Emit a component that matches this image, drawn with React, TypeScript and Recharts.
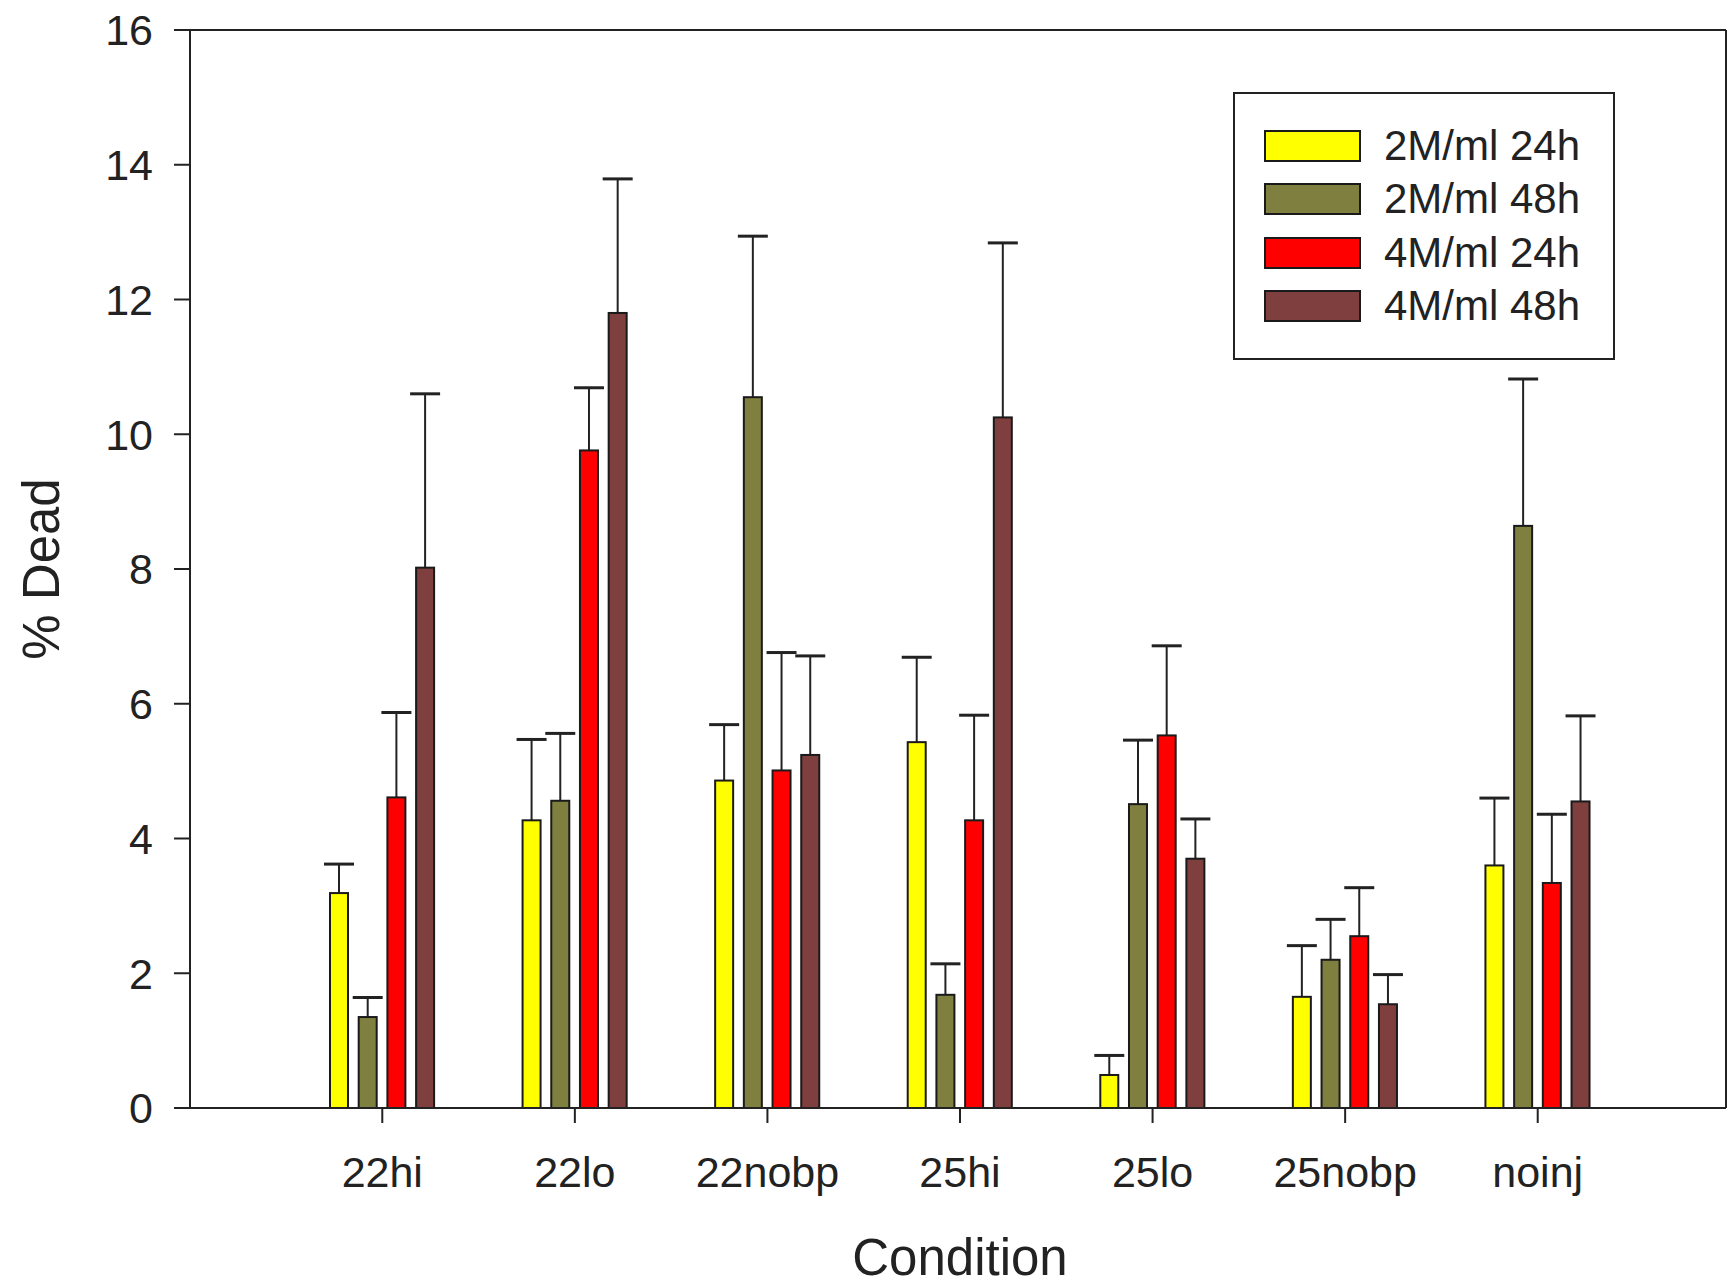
import React from 'react';
import { BarChart, Bar, XAxis, YAxis, Legend } from 'recharts';

const categories = ['22hi', '22lo', '22nobp', '25hi', '25lo', '25nobp', 'noinj'];
const yTicks = [0, 2, 4, 6, 8, 10, 12, 14, 16];

const seriesNames = ['2M/ml 24h', '2M/ml 48h', '4M/ml 24h', '4M/ml 48h'];
const seriesColors = ['#FFFF00', '#7F7F3F', '#FF0000', '#7F3F3F'];

const v2M24 = [3.19, 4.27, 4.86, 5.43, 0.49, 1.65, 3.6];
const e2M24 = [0.43, 1.2, 0.83, 1.26, 0.29, 0.76, 1.0];
const v2M48 = [1.35, 4.56, 10.55, 1.68, 4.51, 2.2, 8.64];
const e2M48 = [0.29, 1.0, 2.39, 0.46, 0.95, 0.6, 2.18];
const v4M24 = [4.61, 9.76, 5.01, 4.27, 5.53, 2.55, 3.34];
const e4M24 = [1.26, 0.93, 1.75, 1.56, 1.33, 0.72, 1.02];
const v4M48 = [8.02, 11.8, 5.24, 10.25, 3.7, 1.54, 4.55];
const e4M48 = [2.58, 1.99, 1.47, 2.59, 0.59, 0.44, 1.27];

const data = categories.map((cat, i) => ({
  cat,
  s0: v2M24[i], e0: e2M24[i],
  s1: v2M48[i], e1: e2M48[i],
  s2: v4M24[i], e2: e4M24[i],
  s3: v4M48[i], e3: e4M48[i],
}));

const FONT = '"Liberation Sans", Arial, Helvetica, sans-serif';
const INK = '#222';

const makeShape = (errKey: string) => (props: any) => {
  const { x, y, width, height, payload, value, fill } = props;
  const v = Array.isArray(value) ? value[1] - value[0] : value;
  const ppu = v ? height / v : 0;
  const err = payload[errKey] || 0;
  const top = y - err * ppu;
  const cx = x + width / 2;
  return (
    <g>
      <line x1={cx} x2={cx} y1={y} y2={top} stroke={INK} strokeWidth={2} />
      <line x1={cx - 15} x2={cx + 15} y1={top} y2={top} stroke={INK} strokeWidth={3} />
      <rect x={x} y={y} width={width} height={height} fill={fill} stroke="#1a1a1a" strokeWidth={2} />
    </g>
  );
};

const LegendBox = () => (
  <div
    style={{
      position: 'relative',
      width: 382,
      height: 268,
      border: `2px solid ${INK}`,
      boxSizing: 'border-box',
      background: '#fff',
      fontFamily: FONT,
    }}
  >
    {seriesNames.map((name, i) => (
      <div key={name}>
        <div
          style={{
            position: 'absolute',
            left: 29,
            top: 36 + i * 53.3,
            width: 97,
            height: 32,
            background: seriesColors[i],
            border: '2px solid #1a1a1a',
            boxSizing: 'border-box',
          }}
        />
        <div
          style={{
            position: 'absolute',
            left: 149,
            top: 36 + i * 53.3,
            height: 32,
            lineHeight: '32px',
            fontSize: 42,
            color: INK,
            whiteSpace: 'nowrap',
          }}
        >
          {name}
        </div>
      </div>
    ))}
  </div>
);

const YLabel = (props: any) => {
  const vb = props.viewBox || {};
  const X = (vb.x || 0) + 59;
  const Y = (vb.y || 0) + (vb.height || 0) / 2;
  return (
    <text
      x={X}
      y={Y}
      transform={`rotate(-90 ${X} ${Y})`}
      textAnchor="middle"
      fontSize={51}
      fontFamily={FONT}
      fill={INK}
    >
      % Dead
    </text>
  );
};

const XLabel = (props: any) => {
  const vb = props.viewBox || {};
  const X = (vb.x || 0) + (vb.width || 0) / 2 + 2;
  const Y = (vb.y || 0) + 167;
  return (
    <text x={X} y={Y} textAnchor="middle" fontSize={51} fontFamily={FONT} fill={INK}>
      Condition
    </text>
  );
};

export default function App() {
  return (
    <div
      style={{
        position: 'absolute',
        left: 0,
        top: 0,
        width: 1730,
        height: 1287,
        background: '#fff',
        fontFamily: FONT,
      }}
    >
      <BarChart
        width={1730}
        height={1287}
        data={data}
        margin={{ top: 29, right: 3, bottom: 0, left: 0 }}
        barGap={10.7}
      >
        <XAxis
          dataKey="cat"
          height={179}
          padding={{ left: 96, right: 92 }}
          tickSize={15}
          tickMargin={33}
          axisLine={{ stroke: INK, strokeWidth: 2 }}
          tickLine={{ stroke: INK, strokeWidth: 2 }}
          tick={{ fontSize: 43, fill: INK, fontFamily: FONT }}
          interval={0}
          label={XLabel}
        />
        <XAxis
          xAxisId="top"
          orientation="top"
          dataKey="cat"
          height={1}
          tick={false}
          tickLine={false}
          axisLine={{ stroke: INK, strokeWidth: 2 }}
        />
        <YAxis
          width={190}
          domain={[0, 16]}
          ticks={yTicks}
          type="number"
          tickSize={16}
          tickMargin={21}
          axisLine={{ stroke: INK, strokeWidth: 2 }}
          tickLine={{ stroke: INK, strokeWidth: 2 }}
          tick={{ fontSize: 43, fill: INK, fontFamily: FONT }}
          interval={0}
          label={YLabel}
        />
        <YAxis
          yAxisId="right"
          orientation="right"
          width={1}
          domain={[0, 16]}
          type="number"
          tick={false}
          tickLine={false}
          axisLine={{ stroke: INK, strokeWidth: 2 }}
        />
        <Legend
          layout="vertical"
          align="center"
          verticalAlign="middle"
          content={() => <LegendBox />}
          wrapperStyle={{ position: 'absolute', left: 1233, top: 92, width: 382, height: 268 }}
        />
        {['s0', 's1', 's2', 's3'].map((k, i) => (
          <Bar
            key={k}
            dataKey={k}
            name={seriesNames[i]}
            fill={seriesColors[i]}
            barSize={18}
            isAnimationActive={false}
            shape={makeShape(`e${i}`)}
          />
        ))}
      </BarChart>
    </div>
  );
}
